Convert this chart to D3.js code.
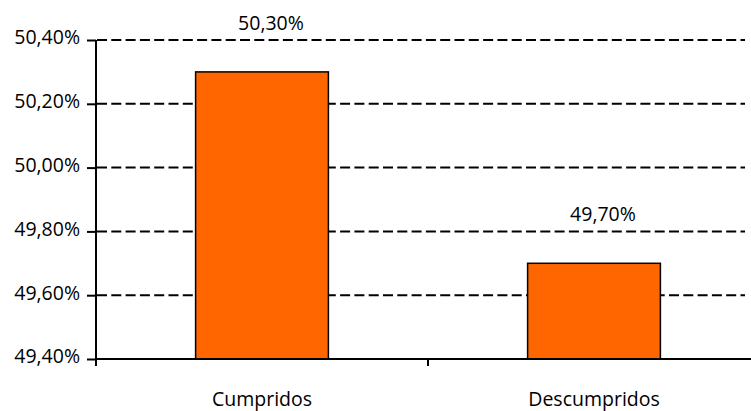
<!DOCTYPE html>
<html>
<head>
<meta charset="utf-8">
<script src="https://cdn.jsdelivr.net/npm/d3@7"></script>
<style>
  html, body { margin: 0; padding: 0; background: #fff; }
  svg { display: block; }
  text { font-family: "Open Sans", "DejaVu Sans", sans-serif; fill: #000; }
</style>
</head>
<body>
<svg id="chart" width="751" height="411"></svg>
<script>
// Share of items by status
const categories = ["Cumpridos", "Descumpridos"];
const values = [50.30, 49.70];
const yTicks = [49.40, 49.60, 49.80, 50.00, 50.20, 50.40];

const width = 751, height = 411;
const margin = { top: 40, right: -9, bottom: 52, left: 96 };
const innerW = width - margin.left - margin.right;
const innerH = height - margin.top - margin.bottom;
const gridEnd = innerW - 15;
const fontSize = "19.5px";

const fmt = v => v.toFixed(2).replace(".", ",") + "%";

const svg = d3.select("#chart");
const g = svg.append("g").attr("transform", `translate(${margin.left},${margin.top})`);

const x = d3.scaleBand().domain(categories).range([0, innerW]).paddingInner(0.6).paddingOuter(0.3);
const band = d3.scaleBand().domain(categories).range([0, innerW]);
const y = d3.scaleLinear().domain([49.40, 50.40]).range([innerH, 0]);

// dashed horizontal gridlines
g.append("g").selectAll("line").data(yTicks.filter(t => t > 49.40)).join("line")
  .attr("x1", 1).attr("x2", gridEnd)
  .attr("y1", d => y(d)).attr("y2", d => y(d))
  .attr("stroke", "#000").attr("stroke-width", 2).attr("stroke-dasharray", "10,4.3");

// bars
g.append("g").selectAll("rect").data(values).join("rect")
  .attr("x", (d, i) => x(categories[i]))
  .attr("y", d => y(d))
  .attr("width", x.bandwidth())
  .attr("height", d => innerH - y(d))
  .attr("fill", "#FF6600").attr("stroke", "#000").attr("stroke-width", 1.5);

// value labels
g.append("g").selectAll("text").data(values).join("text")
  .attr("x", (d, i) => x(categories[i]) + x.bandwidth() / 2 + 9)
  .attr("y", d => y(d) - 42)
  .attr("text-anchor", "middle")
  .style("font-size", fontSize)
  .text(d => fmt(d));

// y axis
const yAxis = g.append("g")
  .call(d3.axisLeft(y).tickValues(yTicks).tickSize(9).tickFormat(fmt));
yAxis.select(".domain").attr("d", `M0,0V${innerH + 7}`).attr("stroke-width", 2);
yAxis.selectAll(".tick line").attr("stroke-width", 2);
yAxis.selectAll(".tick text")
  .style("font-size", fontSize)
  .style("font-family", "'Open Sans', sans-serif")
  .attr("x", -16).attr("dy", "0.2em");

// x axis with ticks at band boundaries
const xAxis = g.append("g").attr("transform", `translate(0,${innerH})`);
xAxis.append("line").attr("x1", 0).attr("x2", innerW).attr("stroke", "#000").attr("stroke-width", 2);
xAxis.selectAll("line.tk").data(categories.concat(["end"])).join("line").attr("class", "tk")
  .attr("x1", (d, i) => i * band.bandwidth()).attr("x2", (d, i) => i * band.bandwidth())
  .attr("y1", 0).attr("y2", 7).attr("stroke", "#000").attr("stroke-width", 2);
xAxis.selectAll("text").data(categories).join("text")
  .attr("x", d => band(d) + band.bandwidth() / 2)
  .attr("y", 47)
  .attr("text-anchor", "middle")
  .style("font-size", fontSize)
  .text(d => d);
</script>
</body>
</html>
